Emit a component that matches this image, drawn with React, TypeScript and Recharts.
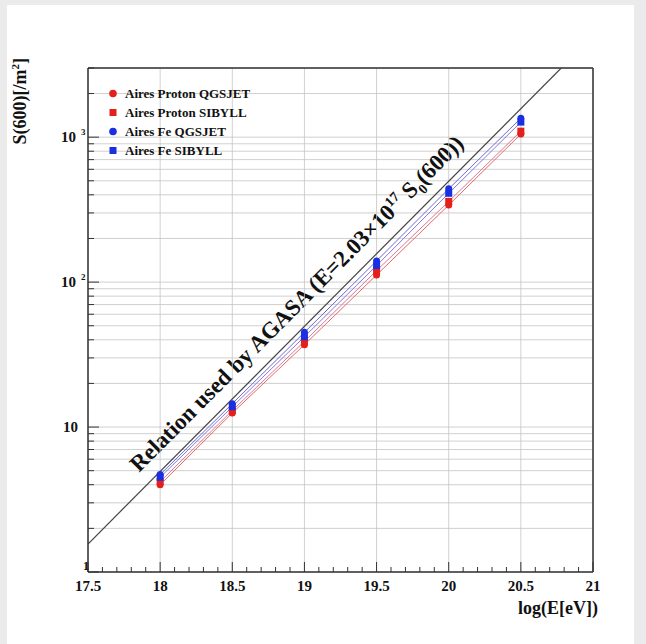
import { ComposedChart, Line, XAxis, YAxis, CartesianGrid, ReferenceLine, Customized } from 'recharts';

const energies = [18, 18.5, 19, 19.5, 20, 20.5];
const protonQgsjet = [4.0, 12.5, 37, 112, 340, 1050];
const protonSibyll = [4.2, 13.0, 39, 120, 360, 1100];
const feQgsjet = [4.7, 14.5, 45, 140, 440, 1350];
const feSibyll = [4.5, 13.8, 42, 130, 410, 1270];

// AGASA relation line end points
const agasaX = [17.5, 20.78];
const agasaY = [1.56, 3000];

const xMajorTicks = [17.5, 18, 18.5, 19, 19.5, 20, 20.5, 21];
const yMajorTicks = [1, 10, 100, 1000];

const xAllTicks: number[] = [];
for (let i = 0; i <= 35; i++) xAllTicks.push(Math.round((17.5 + i * 0.1) * 10) / 10);
const yAllTicks: number[] = [];
[1, 10, 100, 1000].forEach((d) => {
  for (let m = 1; m <= 9; m++) if (d * m <= 3000) yAllTicks.push(d * m);
});

const RED = '#e3201b';
const BLUE = '#1c2fe0';
const FONT = '"Liberation Serif", "DejaVu Serif", serif';

const toRows = (ys: number[]) => energies.map((x, i) => ({ x, y: ys[i] }));
const agasaRows = agasaX.map((x, i) => ({ x, y: agasaY[i] }));

const series = [
  { name: 'Aires Proton QGSJET', data: toRows(protonQgsjet), color: RED, line: '#e46a6a', shape: 'circle' },
  { name: 'Aires Proton SIBYLL', data: toRows(protonSibyll), color: RED, line: '#d77a9a', shape: 'square' },
  { name: 'Aires Fe QGSJET', data: toRows(feQgsjet), color: BLUE, line: '#6a6ad8', shape: 'circle' },
  { name: 'Aires Fe SIBYLL', data: toRows(feSibyll), color: BLUE, line: '#8a7ad0', shape: 'square' },
];

const marker = (shape: string, color: string) => (props: any) => {
  const { cx, cy, index } = props;
  if (cx == null || cy == null) return <g key={index} />;
  return shape === 'circle' ? (
    <circle key={index} cx={cx} cy={cy} r={3.5} fill={color} />
  ) : (
    <rect key={index} x={cx - 3.5} y={cy - 3.5} width={7} height={7} fill={color} />
  );
};

const XTick = (props: any) => {
  const { x, payload } = props;
  const v = payload.value;
  const major = xMajorTicks.includes(v);
  return (
    <g>
      <line x1={x} x2={x} y1={572} y2={major ? 562 : 567} stroke="#333" strokeWidth={1} />
      {major && (
        <text x={x} y={591} textAnchor="middle" fontFamily={FONT} fontWeight="bold" fontSize={15} fill="#111">
          {v}
        </text>
      )}
    </g>
  );
};

const YTick = (props: any) => {
  const { y, payload } = props;
  const v = payload.value;
  const major = yMajorTicks.includes(v);
  let label = null;
  if (v === 1) {
    label = (
      <text x={86} y={y - 2} textAnchor="middle" fontFamily={FONT} fontWeight="bold" fontSize={12} fill="#111">1</text>
    );
  } else if (v === 10) {
    label = (
      <text x={78} y={y + 5} textAnchor="end" fontFamily={FONT} fontWeight="bold" fontSize={15} fill="#111">10</text>
    );
  } else if (major) {
    label = (
      <g>
        <text x={76} y={y + 5} textAnchor="end" fontFamily={FONT} fontWeight="bold" fontSize={15} fill="#111">10</text>
        <text x={81} y={y - 2} textAnchor="start" fontFamily={FONT} fontWeight="bold" fontSize={9} fill="#111">
          {v === 100 ? '2' : '3'}
        </text>
      </g>
    );
  }
  return (
    <g>
      <line x1={88} x2={major ? 99 : 94} y1={y} y2={y} stroke="#333" strokeWidth={1} />
      {label}
    </g>
  );
};

const LegendBox = () => (
  <div style={{ fontFamily: FONT, fontWeight: 'bold', fontSize: 13, color: '#111', lineHeight: '19px' }}>
    {series.map((s) => (
      <div key={s.name} style={{ display: 'flex', alignItems: 'center', height: 19 }}>
        <svg width={20} height={19}>
          {s.shape === 'circle' ? (
            <circle cx={8} cy={9.5} r={3.8} fill={s.color} />
          ) : (
            <rect x={4.5} y={6} width={7} height={7} fill={s.color} />
          )}
        </svg>
        <span>{s.name}</span>
      </div>
    ))}
  </div>
);

const AgasaLabel = () => (
  <text
    transform="translate(302,309) rotate(-45.2)"
    textAnchor="middle"
    fontFamily={FONT}
    fontWeight="bold"
    fontSize={23}
    fill="#111"
  >
    Relation used by AGASA (E=2.03×10
    <tspan dy={-9} fontSize={14}>17</tspan>
    <tspan dy={9}> S</tspan>
    <tspan dy={6} fontSize={14}>0</tspan>
    <tspan dy={-6}>(600))</tspan>
  </text>
);

const AxisTitles = () => (
  <g fontFamily={FONT} fontWeight="bold" fill="#111">
    <text transform="translate(26,58) rotate(-90)" textAnchor="end" fontSize={18}>
      S(600)[/m
      <tspan dy={-7} fontSize={11}>2</tspan>
      <tspan dy={7}>]</tspan>
    </text>
    <text x={598} y={614} textAnchor="end" fontSize={18}>log(E[eV])</text>
  </g>
);

export default function App() {
  return (
    <div style={{ position: 'absolute', left: 0, top: 0, width: 646, height: 644, background: '#ebebeb' }}>
      <div style={{ position: 'absolute', left: 7, top: 5, width: 627, height: 639, background: '#fff' }} />
      <div style={{ position: 'absolute', left: 0, top: 0 }}>
        <ComposedChart width={646} height={644} margin={{ top: 68, right: 53, bottom: 42, left: 38 }}>
          <CartesianGrid vertical={false} stroke="#c4c4c4" strokeWidth={0.8} />
          {xMajorTicks.map((v) => (
            <ReferenceLine key={`vg-${v}`} x={v} stroke="#c4c4c4" strokeWidth={0.8} />
          ))}
          <XAxis
            type="number"
            dataKey="x"
            domain={[17.5, 21]}
            ticks={xAllTicks}
            interval={0}
            tick={<XTick />}
            tickLine={false}
            axisLine={{ stroke: '#333', strokeWidth: 1.5 }}
            height={30}
            allowDataOverflow
          />
          <YAxis
            type="number"
            scale="log"
            dataKey="y"
            domain={[1, 3000]}
            ticks={yAllTicks}
            interval={0}
            tick={<YTick />}
            tickLine={false}
            axisLine={{ stroke: '#333', strokeWidth: 1.5 }}
            width={50}
            allowDataOverflow
          />
          <ReferenceLine y={3000} stroke="#333" strokeWidth={1.5} />
          <ReferenceLine x={21} stroke="#333" strokeWidth={1.5} />
          <Line
            data={agasaRows}
            dataKey="y"
            type="linear"
            stroke="#444"
            strokeWidth={1.2}
            dot={false}
            isAnimationActive={false}
            legendType="none"
          />
          {series.map((s) => (
            <Line
              key={s.name}
              name={s.name}
              data={s.data}
              dataKey="y"
              type="linear"
              stroke={s.line}
              strokeWidth={1}
              dot={marker(s.shape, s.color)}
              activeDot={false}
              isAnimationActive={false}
            />
          ))}
          <Customized component={<AgasaLabel />} />
          <Customized component={<AxisTitles />} />
        </ComposedChart>
      </div>
      <div style={{ position: 'absolute', left: 105, top: 84 }}>
        <LegendBox />
      </div>
    </div>
  );
}
